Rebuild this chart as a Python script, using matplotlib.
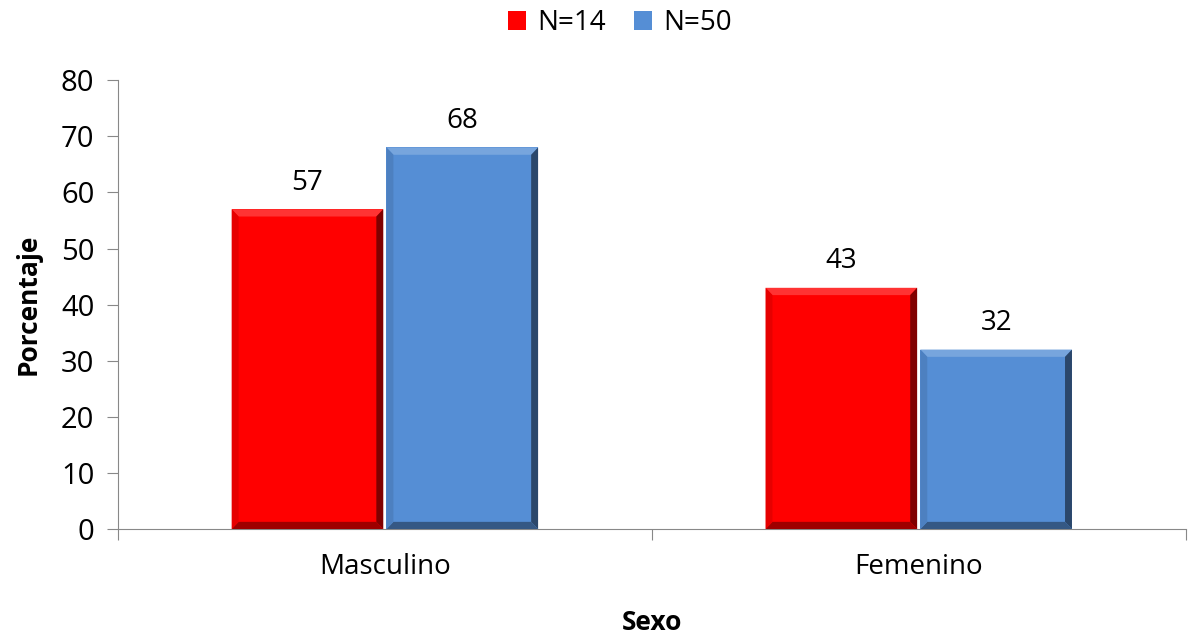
import numpy as np
import matplotlib.pyplot as plt
from matplotlib.patches import Polygon
from matplotlib.colors import to_rgb

categorias = ['Masculino', 'Femenino']
series = ['N=14', 'N=50']
n14 = [57, 43]
n50 = [68, 32]

colores = ['#ff0000', '#558ed5']

plt.rcParams['font.family'] = ['Open Sans', 'DejaVu Sans']

fig = plt.figure(figsize=(11.89, 6.36), dpi=100)
ax = fig.add_axes([0.0992, 0.168, 0.898, 0.706])

x = np.arange(len(categorias))
ancho = 0.284


def oscurecer(c, f):
    r, g, b = to_rgb(c)
    return (r * f, g * f, b * f)


def aclarar(c, f):
    r, g, b = to_rgb(c)
    return (r + (1 - r) * f, g + (1 - g) * f, b + (1 - b) * f)


def bisel(bar, color):
    # efecto de bisel tipo Excel
    x0, y0 = bar.get_x(), bar.get_y()
    w, h = bar.get_width(), bar.get_height()
    x1, y1 = x0 + w, y0 + h
    bx, by = 0.013, 1.3
    ax.add_patch(Polygon([(x0, y1), (x1, y1), (x1 - bx, y1 - by), (x0 + bx, y1 - by)],
                         closed=True, color=aclarar(color, 0.2), lw=0, zorder=3))
    ax.add_patch(Polygon([(x1, y1), (x1, y0), (x1 - bx, y0 + by), (x1 - bx, y1 - by)],
                         closed=True, color=oscurecer(color, 0.5), lw=0, zorder=3))
    ax.add_patch(Polygon([(x0, y0), (x1, y0), (x1 - bx, y0 + by), (x0 + bx, y0 + by)],
                         closed=True, color=oscurecer(color, 0.62), lw=0, zorder=3))
    ax.add_patch(Polygon([(x0, y0), (x0, y1), (x0 + bx, y1 - by), (x0 + bx, y0 + by)],
                         closed=True, color=oscurecer(color, 0.9), lw=0, zorder=3))


for i, (vals, nombre) in enumerate(zip([n14, n50], series)):
    pos = x - ancho / 2 + i * ancho + (0.003 if i else -0.003)
    barras = ax.bar(pos, vals, ancho, color=colores[i], label=nombre, zorder=2)
    for b, v in zip(barras, vals):
        bisel(b, colores[i])
        ax.annotate(str(v), (b.get_x() + b.get_width() / 2, v), xytext=(0, 9),
                    textcoords='offset points', ha='center', va='bottom', fontsize=20)

ax.set_xlim(-0.5, len(categorias) - 0.5)
ax.set_ylim(0, 80)
ax.set_yticks(range(0, 81, 10))
ax.set_xticks(np.arange(-0.5, len(categorias), 1.0))
ax.set_xticklabels([])
ax.set_xticks(x, minor=True)
ax.set_xticklabels(categorias, minor=True, fontsize=20)
ax.tick_params(axis='x', which='minor', length=0, pad=17)
ax.tick_params(axis='x', which='major', length=8, color='#888888', direction='out')
ax.tick_params(axis='y', length=8, color='#888888', labelsize=21, pad=9)

for s in ['top', 'right']:
    ax.spines[s].set_visible(False)
for s in ['left', 'bottom']:
    ax.spines[s].set_color('#888888')

ax.set_ylabel('Porcentaje', fontsize=19, fontweight='bold', labelpad=14)
ax.set_xlabel('Sexo', fontsize=19, fontweight='bold', labelpad=20)

ax.legend(loc='lower center', bbox_to_anchor=(0.47, 1.04), ncol=2, frameon=False,
          fontsize=20, handlelength=0.65, handleheight=0.65, handletextpad=0.4, columnspacing=1.0)

fig.savefig('out.png', dpi=100)
